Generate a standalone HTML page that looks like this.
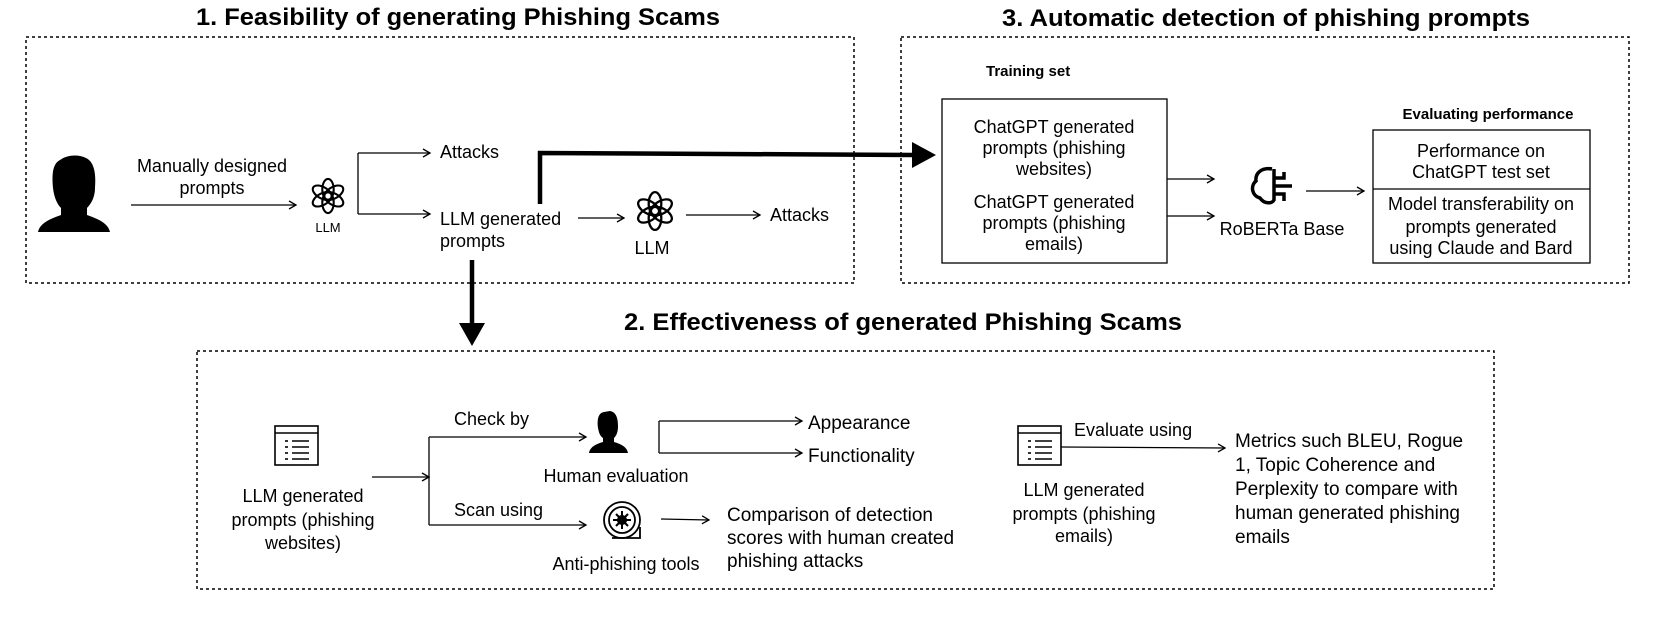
<!DOCTYPE html>
<html><head><meta charset="utf-8"><style>
html,body{margin:0;padding:0;background:#fff}
svg{display:block}
text{font-family:"Liberation Sans",sans-serif;fill:#000}
.t{font-size:18px}
.u{font-size:19px}
.s{font-size:13px}
.h{font-size:24px;font-weight:bold}
.b{font-size:15px;font-weight:bold}
</style></head><body>
<svg width="1661" height="626" viewBox="0 0 1661 626" xmlns="http://www.w3.org/2000/svg">
<defs>
<marker id="a" markerWidth="10" markerHeight="10" refX="8" refY="5" orient="auto" markerUnits="userSpaceOnUse">
<path d="M1,1 L8,5 L1,9" fill="none" stroke="#000" stroke-width="1.3"/></marker>
<g id="gpt" fill="none" stroke="#000" stroke-width="2.2">
<ellipse cx="0" cy="-7" rx="6" ry="11" transform="rotate(0)"/>
<ellipse cx="0" cy="-7" rx="6" ry="11" transform="rotate(60)"/>
<ellipse cx="0" cy="-7" rx="6" ry="11" transform="rotate(120)"/>
<ellipse cx="0" cy="-7" rx="6" ry="11" transform="rotate(180)"/>
<ellipse cx="0" cy="-7" rx="6" ry="11" transform="rotate(240)"/>
<ellipse cx="0" cy="-7" rx="6" ry="11" transform="rotate(300)"/>
</g>
<g id="doc" fill="none" stroke="#000" stroke-width="1.6">
<rect x="0" y="0" width="43" height="39"/>
<line x1="0" y1="7" x2="43" y2="7"/>
<line x1="10" y1="15" x2="13" y2="15"/><line x1="17" y1="15" x2="34" y2="15"/>
<line x1="10" y1="21" x2="13" y2="21"/><line x1="17" y1="21" x2="34" y2="21"/>
<line x1="10" y1="27" x2="13" y2="27"/><line x1="17" y1="27" x2="34" y2="27"/>
<line x1="10" y1="33" x2="13" y2="33"/><line x1="17" y1="33" x2="34" y2="33"/>
</g>
</defs>

<text class="h" x="458" y="25" text-anchor="middle" textLength="524" lengthAdjust="spacingAndGlyphs">1. Feasibility of generating Phishing Scams</text>
<text class="h" x="1266" y="26" text-anchor="middle" textLength="528" lengthAdjust="spacingAndGlyphs">3. Automatic detection of phishing prompts</text>
<text class="h" x="903" y="330" text-anchor="middle" textLength="558" lengthAdjust="spacingAndGlyphs">2. Effectiveness of generated Phishing Scams</text>

<g fill="none" stroke="#000" stroke-width="1.5" stroke-dasharray="3,3">
<rect x="26" y="37" width="828" height="246"/>
<rect x="901" y="37" width="728" height="246"/>
<rect x="197" y="351" width="1297" height="238"/>
</g>

<path d="M60,160 C52,164 52,176 53,188 C54,197 57,204 61,208 L61,215 C50,219 40,223 38,232 L110,232 C108,223 98,219 87,215 L87,208 C92,203 95,196 95,188 C96,176 95,162 86,158 C78,154 67,155 60,160 Z" fill="#000"/>
<text class="t" x="212" y="172" text-anchor="middle">Manually designed</text>
<text class="t" x="212" y="194" text-anchor="middle">prompts</text>
<line x1="131" y1="205" x2="296" y2="205" stroke="#000" stroke-width="1.3" marker-end="url(#a)"/>
<use href="#gpt" transform="translate(328,196) scale(0.95)"/>
<text class="s" x="328" y="232" text-anchor="middle">LLM</text>
<path d="M358,153 L358,214" stroke="#000" stroke-width="1.3" fill="none"/>
<line x1="358" y1="153" x2="430" y2="153" stroke="#000" stroke-width="1.3" marker-end="url(#a)"/>
<line x1="358" y1="214" x2="430" y2="214" stroke="#000" stroke-width="1.3" marker-end="url(#a)"/>
<text class="t" x="440" y="158">Attacks</text>
<text class="t" x="440" y="225">LLM generated</text>
<text class="t" x="440" y="247">prompts</text>
<line x1="578" y1="218" x2="624" y2="218" stroke="#000" stroke-width="1.3" marker-end="url(#a)"/>
<use href="#gpt" transform="translate(655,211) scale(1.05)"/>
<text class="t" x="652" y="254" text-anchor="middle">LLM</text>
<line x1="686" y1="215" x2="760" y2="215" stroke="#000" stroke-width="1.3" marker-end="url(#a)"/>
<text class="t" x="770" y="221">Attacks</text>

<path d="M540,204 L540,153 L914,155" fill="none" stroke="#000" stroke-width="4.5"/>
<polygon points="912,142 936,155 912,168" fill="#000"/>
<line x1="472" y1="260" x2="472" y2="326" stroke="#000" stroke-width="4.5"/>
<polygon points="459,323 485,323 472,346" fill="#000"/>

<text class="b" x="986" y="76">Training set</text>
<rect x="942" y="99" width="225" height="164" fill="none" stroke="#000" stroke-width="1.3"/>
<text class="t" x="1054" y="133" text-anchor="middle">ChatGPT generated</text>
<text class="t" x="1054" y="154" text-anchor="middle">prompts (phishing</text>
<text class="t" x="1054" y="175" text-anchor="middle">websites)</text>
<text class="t" x="1054" y="208" text-anchor="middle">ChatGPT generated</text>
<text class="t" x="1054" y="229" text-anchor="middle">prompts (phishing</text>
<text class="t" x="1054" y="250" text-anchor="middle">emails)</text>
<line x1="1167" y1="179" x2="1214" y2="179" stroke="#000" stroke-width="1.3" marker-end="url(#a)"/>
<line x1="1167" y1="216" x2="1214" y2="216" stroke="#000" stroke-width="1.3" marker-end="url(#a)"/>
<g fill="none" stroke="#000" stroke-width="3.5">
<path d="M1272,169 C1262,167 1255,173 1256,181 C1250,186 1252,196 1260,198 C1264,204 1272,204 1274,200 L1274,169"/>
<path d="M1274,178 L1284,178 L1284,172 M1274,186 L1292,186 M1274,194 L1284,194 L1284,201"/>
</g>
<text class="t" x="1282" y="235" text-anchor="middle">RoBERTa Base</text>
<line x1="1306" y1="191" x2="1364" y2="191" stroke="#000" stroke-width="1.3" marker-end="url(#a)"/>
<text class="b" x="1488" y="119" text-anchor="middle">Evaluating performance</text>
<rect x="1373" y="130" width="217" height="133" fill="none" stroke="#000" stroke-width="1.3"/>
<line x1="1373" y1="189" x2="1590" y2="189" stroke="#000" stroke-width="1.3"/>
<text class="t" x="1481" y="157" text-anchor="middle">Performance on</text>
<text class="t" x="1481" y="178" text-anchor="middle">ChatGPT test set</text>
<text class="t" x="1481" y="210" text-anchor="middle">Model transferability on</text>
<text class="t" x="1481" y="233" text-anchor="middle">prompts generated</text>
<text class="t" x="1481" y="254" text-anchor="middle">using  Claude and Bard</text>

<use href="#doc" transform="translate(275,426)"/>
<text class="t" x="303" y="502" text-anchor="middle">LLM generated</text>
<text class="t" x="303" y="526" text-anchor="middle">prompts (phishing</text>
<text class="t" x="303" y="549" text-anchor="middle">websites)</text>
<line x1="372" y1="477" x2="429" y2="477" stroke="#000" stroke-width="1.3" marker-end="url(#a)"/>
<line x1="429" y1="437" x2="429" y2="525" stroke="#000" stroke-width="1.3"/>
<line x1="429" y1="437" x2="586" y2="437" stroke="#000" stroke-width="1.3" marker-end="url(#a)"/>
<line x1="429" y1="525" x2="586" y2="525" stroke="#000" stroke-width="1.3" marker-end="url(#a)"/>
<text class="t" x="454" y="425">Check by</text>
<text class="t" x="454" y="516">Scan using</text>
<path d="M604,412 C598,413 597,420 598,428 C599,433 600,436 603,438 L603,442 C596,444 590,447 589,453 L628,453 C627,447 621,444 614,442 L614,438 C617,435 618,431 618,426 C618,418 616,412 610,411 Z" fill="#000"/>
<text class="t" x="616" y="482" text-anchor="middle">Human evaluation</text>
<line x1="659" y1="421" x2="659" y2="453" stroke="#000" stroke-width="1.3"/>
<line x1="659" y1="421" x2="802" y2="421" stroke="#000" stroke-width="1.3" marker-end="url(#a)"/>
<line x1="659" y1="453" x2="802" y2="453" stroke="#000" stroke-width="1.3" marker-end="url(#a)"/>
<text class="u" x="808" y="429">Appearance</text>
<text class="u" x="808" y="462">Functionality</text>
<g fill="none" stroke="#000" stroke-width="1.8">
<circle cx="622" cy="520" r="18"/>
<circle cx="622" cy="520" r="13"/>
<path d="M612,538 L640,538 L640,527"/>
</g>
<g stroke="#000" stroke-width="2">
<circle cx="622" cy="520" r="4" fill="#000"/>
<line x1="622" y1="511" x2="622" y2="529"/><line x1="613" y1="520" x2="631" y2="520"/>
<line x1="616" y1="514" x2="628" y2="526"/><line x1="628" y1="514" x2="616" y2="526"/>
</g>
<text class="t" x="626" y="570" text-anchor="middle">Anti-phishing tools</text>
<line x1="661" y1="519" x2="709" y2="520" stroke="#000" stroke-width="1.3" marker-end="url(#a)"/>
<text class="u" x="727" y="521">Comparison of detection</text>
<text class="u" x="727" y="544">scores with human created</text>
<text class="u" x="727" y="567">phishing attacks</text>
<use href="#doc" transform="translate(1018,426)"/>
<text class="t" x="1084" y="496" text-anchor="middle">LLM generated</text>
<text class="t" x="1084" y="520" text-anchor="middle">prompts (phishing</text>
<text class="t" x="1084" y="542" text-anchor="middle">emails)</text>
<text class="t" x="1074" y="436">Evaluate using</text>
<line x1="1061" y1="447" x2="1225" y2="448" stroke="#000" stroke-width="1.3" marker-end="url(#a)"/>
<text class="u" x="1235" y="447">Metrics such BLEU, Rogue</text>
<text class="u" x="1235" y="471">1, Topic Coherence and</text>
<text class="u" x="1235" y="495">Perplexity to compare with</text>
<text class="u" x="1235" y="519">human generated phishing</text>
<text class="u" x="1235" y="543">emails</text>
</svg>
</body></html>
